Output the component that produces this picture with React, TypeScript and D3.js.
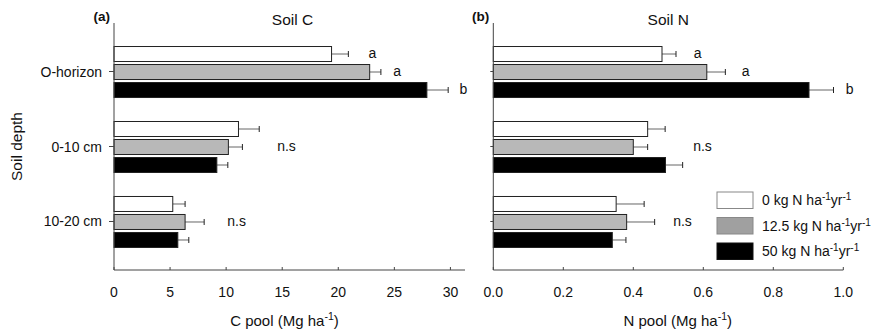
import React from "react";
import * as d3 from "d3";

const depths = ["O-horizon", "0-10 cm", "10-20 cm"];
const treatments = ["0", "12.5", "50"];
const fills = ["#ffffff", "#b8b8b8", "#000000"];

// soil C pool (Mg ha-1), per treatment, per depth
const soilC0 = [19.4, 11.1, 5.24];
const soilC12 = [22.8, 10.2, 6.34];
const soilC50 = [27.9, 9.17, 5.69];
const soilCErr0 = [1.5, 1.85, 1.1];
const soilCErr12 = [1.0, 1.25, 1.7];
const soilCErr50 = [1.9, 0.98, 0.98];

// soil N pool (Mg ha-1)
const soilN0 = [0.482, 0.441, 0.351];
const soilN12 = [0.61, 0.4, 0.381];
const soilN50 = [0.902, 0.492, 0.34];
const soilNErr0 = [0.04, 0.05, 0.08];
const soilNErr12 = [0.053, 0.041, 0.08];
const soilNErr50 = [0.07, 0.049, 0.039];

// significance letters: [depth index, treatment index, text, x value]
const soilCSig = [
  [0, 0, "a", 22.7],
  [0, 1, "a", 24.9],
  [0, 2, "b", 30.8],
  [1, 1, "n.s", 14.55],
  [2, 1, "n.s", 10.1],
];
const soilNSig = [
  [0, 0, "a", 0.573],
  [0, 1, "a", 0.71],
  [0, 2, "b", 1.007],
  [1, 1, "n.s", 0.571],
  [2, 1, "n.s", 0.514],
];

const soilCTicks = [0, 5, 10, 15, 20, 25, 30];
const soilNTicks = [0, 0.2, 0.4, 0.6, 0.8, 1.0];

const FONT = "'Liberation Sans', Arial, sans-serif";
const TOP = 23;
const BOTTOM = 270;

const y = d3
  .scaleBand()
  .domain(depths)
  .range([TOP, BOTTOM])
  .paddingInner(0)
  .paddingOuter(0.147);
const ySub = d3
  .scaleBand()
  .domain(treatments)
  .range([-25, 26])
  .paddingInner(1 / 6)
  .paddingOuter(0);

function Panel(props) {
  const { values, errors, sig, x, ticks, fmt, title, tag, xLabel, xLabelAt, showLabels } = props;
  const x0 = x.range()[0];
  const axisColor = "#444";
  return (
    <g>
      {values.map((series, s) =>
        series.map((v, d) => {
          const cy = y(depths[d]) + y.bandwidth() / 2 + ySub(treatments[s]);
          const h = ySub.bandwidth();
          const xe = x(v + errors[s][d]);
          return (
            <g key={s + "-" + d}>
              <line x1={x(v)} x2={xe} y1={cy + h / 2} y2={cy + h / 2} stroke="#666" strokeWidth={1} />
              <line x1={xe} x2={xe} y1={cy + h / 2 - 3} y2={cy + h / 2 + 3} stroke="#222" strokeWidth={1} />
              <rect x={x0} y={cy} width={x(v) - x0} height={h} fill={fills[s]} stroke="#222" strokeWidth={1} />
            </g>
          );
        })
      )}
      {sig.map(([d, s, t, at], i) => (
        <text
          key={"sig" + i}
          x={x(at)}
          y={y(depths[d]) + y.bandwidth() / 2 + ySub(treatments[s]) + ySub.bandwidth() / 2 + 4}
          fontSize={14}
          fontFamily={FONT}
          fill="#111"
        >
          {t}
        </text>
      ))}
      {/* y axis */}
      <line x1={x0} x2={x0} y1={TOP} y2={BOTTOM} stroke={axisColor} strokeWidth={1} />
      {depths.map((d) => (
        <g key={d}>
          <line
            x1={x0 - (showLabels ? 5 : 3)}
            x2={x0}
            y1={y(d) + y.bandwidth() / 2}
            y2={y(d) + y.bandwidth() / 2}
            stroke={axisColor}
          />
          {showLabels && (
            <text
              x={x0 - 12}
              y={y(d) + y.bandwidth() / 2 + 5}
              textAnchor="end"
              fontSize={14}
              fontFamily={FONT}
              fill="#111"
            >
              {d}
            </text>
          )}
        </g>
      ))}
      {/* x axis */}
      <line x1={x0} x2={x.range()[1]} y1={BOTTOM} y2={BOTTOM} stroke={axisColor} strokeWidth={1} />
      {ticks.map((t) => (
        <g key={t}>
          <line x1={x(t)} x2={x(t)} y1={BOTTOM} y2={BOTTOM - 3} stroke={axisColor} />
          <text x={x(t)} y={BOTTOM + 27} textAnchor="middle" fontSize={14} fontFamily={FONT} fill="#111">
            {fmt(t)}
          </text>
        </g>
      ))}
      <text x={x(xLabelAt)} y={326} textAnchor="middle" fontSize={15} fontFamily={FONT} fill="#111">
        {xLabel}
        <tspan dy={-6} fontSize={10.5}>-1</tspan>
        <tspan dy={6}>)</tspan>
      </text>
      <text x={(x0 + x.range()[1]) / 2 + (showLabels ? 3 : 0)} y={25} textAnchor="middle" fontSize={15.5} fontFamily={FONT} fill="#111">
        {title}
      </text>
      <text x={x0 - 4} y={21} textAnchor="end" fontSize={13.5} fontWeight="bold" fontFamily={FONT} fill="#111">
        {tag}
      </text>
    </g>
  );
}

export default function App() {
  const xC = d3.scaleLinear().domain([0, 31.3]).range([114, 465]);
  const xN = d3.scaleLinear().domain([0, 1]).range([493.3, 843.3]);
  const legendY = [192, 217.5, 243];
  return (
    <svg width={884} height={335} style={{ position: "absolute", left: 0, top: 0, background: "#fff" }}>
      <text
        transform={"translate(22," + (y("0-10 cm") + y.bandwidth() / 2) + ") rotate(-90)"}
        textAnchor="middle"
        fontSize={15.5}
        fontFamily={FONT}
        fill="#111"
      >
        Soil depth
      </text>
      <Panel
        values={[soilC0, soilC12, soilC50]}
        errors={[soilCErr0, soilCErr12, soilCErr50]}
        sig={soilCSig}
        x={xC}
        ticks={soilCTicks}
        fmt={d3.format("d")}
        title="Soil C"
        tag="(a)"
        xLabel="C pool (Mg ha"
        xLabelAt={15.2}
        showLabels={true}
      />
      <Panel
        values={[soilN0, soilN12, soilN50]}
        errors={[soilNErr0, soilNErr12, soilNErr50]}
        sig={soilNSig}
        x={xN}
        ticks={soilNTicks}
        fmt={d3.format(".1f")}
        title="Soil N"
        tag="(b)"
        xLabel="N pool (Mg ha"
        xLabelAt={0.527}
        showLabels={false}
      />
      {treatments.map((t, i) => (
        <g key={t}>
          <rect
            x={717}
            y={legendY[i]}
            width={36}
            height={16.5}
            fill={i === 1 ? "#a0a0a0" : fills[i]}
            stroke={i === 2 ? "#111" : "#888"}
            strokeWidth={1}
          />
          <text x={762} y={legendY[i] + 13} fontSize={14} fontFamily={FONT} fill="#111">
            {t + " kg N ha"}
            <tspan dy={-5} fontSize={10}>-1</tspan>
            <tspan dy={5}>yr</tspan>
            <tspan dy={-5} fontSize={10}>-1</tspan>
          </text>
        </g>
      ))}
    </svg>
  );
}
